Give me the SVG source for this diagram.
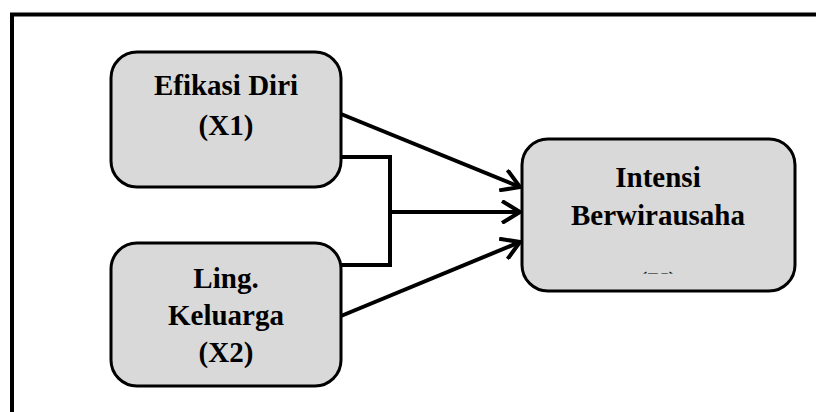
<svg xmlns="http://www.w3.org/2000/svg" width="816" height="412" viewBox="0 0 816 412">
  <defs>
    <style>
      .box { fill: #d9d9d9; stroke: #000; stroke-width: 3; }
      .lbl { font-family: "Liberation Serif", "Times New Roman", serif; font-weight: bold; font-size: 29px; text-anchor: middle; fill: #000; }
      .conn { fill: none; stroke: #000; stroke-width: 4; }
    </style>
    <marker id="arr" markerWidth="24" markerHeight="24" refX="19" refY="12" orient="auto" markerUnits="userSpaceOnUse">
      <path d="M1,1 L19,12 L1,23" fill="none" stroke="#000" stroke-width="4"/>
    </marker>
    <clipPath id="clipY">
      <rect x="522" y="139" width="273" height="134.5"/>
    </clipPath>
  </defs>
  <rect x="0" y="0" width="816" height="412" fill="#fff"/>
  <path d="M12,412 L12,14.5 L816,14.5" fill="none" stroke="#000" stroke-width="4"/>

  <g id="connectors">
    <line class="conn" x1="341" y1="114" x2="520" y2="187" marker-end="url(#arr)"/>
    <path class="conn" d="M341,157 L390,157 L390,265 L341,265"/>
    <line class="conn" x1="390" y1="212" x2="520" y2="212" marker-end="url(#arr)"/>
    <line class="conn" x1="341" y1="316" x2="520" y2="242" marker-end="url(#arr)"/>
  </g>

  <g id="node-x1">
    <rect class="box" x="111" y="52" width="230" height="135" rx="26"/>
    <text class="lbl" x="226" y="95">Efikasi Diri</text>
    <text class="lbl" x="226" y="135">(X1)</text>
  </g>

  <g id="node-x2">
    <rect class="box" x="111" y="243" width="230" height="143" rx="26"/>
    <text class="lbl" x="226" y="288">Ling.</text>
    <text class="lbl" x="226" y="325">Keluarga</text>
    <text class="lbl" x="226" y="362">(X2)</text>
  </g>

  <g id="node-y">
    <rect class="box" x="522" y="139" width="273" height="152" rx="26"/>
    <text class="lbl" x="658" y="187">Intensi</text>
    <text class="lbl" x="658" y="225">Berwirausaha</text>
    <text class="lbl" x="658" y="292" clip-path="url(#clipY)">(Y)</text>
  </g>
</svg>
